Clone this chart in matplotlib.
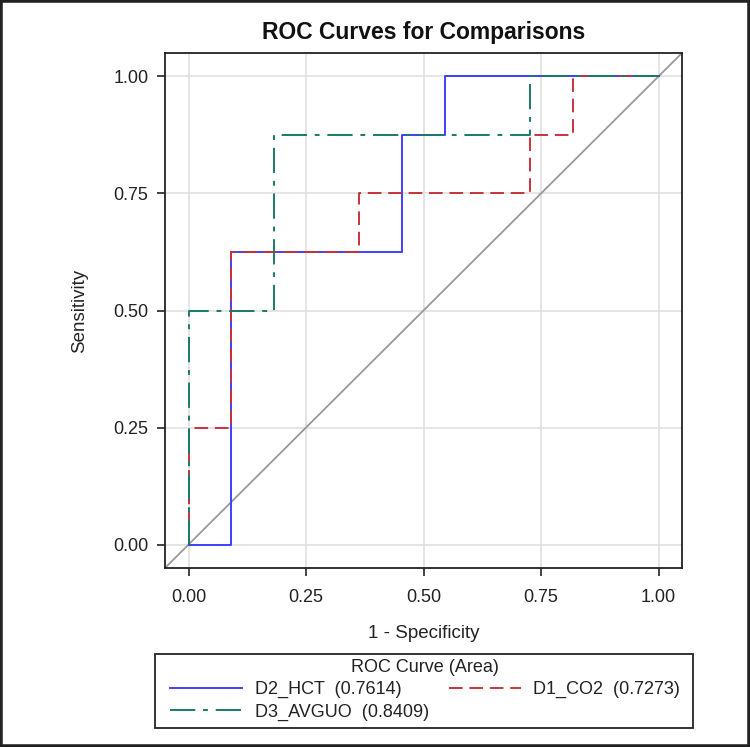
import matplotlib
matplotlib.use("Agg")
import matplotlib.pyplot as plt
from matplotlib.patches import Rectangle

plt.rcParams['font.family'] = ['Liberation Sans', 'DejaVu Sans']

n_neg = 11
hct_x = [0, 1, 1, 5, 5, 6, 6, 11]
hct_y = [0, 0, 0.625, 0.625, 0.875, 0.875, 1, 1]
co2_x = [0, 0, 1, 1, 4, 4, 8, 8, 9, 9, 11]
co2_y = [0, 0.25, 0.25, 0.625, 0.625, 0.75, 0.75, 0.875, 0.875, 1, 1]
avg_x = [0, 0, 2, 2, 8, 8, 11]
avg_y = [0, 0.5, 0.5, 0.875, 0.875, 1, 1]
labels = ['D2_HCT  (0.7614)', 'D1_CO2  (0.7273)', 'D3_AVGUO  (0.8409)']
ticks = [0.0, 0.25, 0.5, 0.75, 1.0]
tick_labels = ['0.00', '0.25', '0.50', '0.75', '1.00']

W, H = 750, 747
fig = plt.figure(figsize=(7.5, 7.47), dpi=100)
fig.patches.append(Rectangle((0, 0), 1, 1, transform=fig.transFigure, fill=False,
                             edgecolor='#222222', linewidth=4))
ax = fig.add_axes([165 / W, 1 - 568 / H, 517 / W, 515 / H])
ax.set_xlim(-0.05, 1.05)
ax.set_ylim(-0.05, 1.05)
ax.set_xticks(ticks)
ax.set_xticklabels(tick_labels)
ax.set_yticks(ticks)
ax.set_yticklabels(tick_labels)
ax.grid(True, color='#e0e0e0', linewidth=1.2)
ax.set_axisbelow(True)
ax.tick_params(labelsize=13, length=6, width=1.2, color='#222222', pad=6, labelcolor='#222222')
ax.tick_params(axis='x', pad=9)
for s in ax.spines.values():
    s.set_color('#222222')
    s.set_linewidth(1.3)

ax.plot([-0.05, 1.05], [-0.05, 1.05], color='#999999', linewidth=1.3, zorder=2)
l1, = ax.plot([v / n_neg for v in hct_x], hct_y, color='#3f3fff', linewidth=1.4, label=labels[0], zorder=3)
l2, = ax.plot([v / n_neg for v in co2_x], co2_y, color='#c8323c', linewidth=1.4,
              dashes=(7, 3.5), label=labels[1], zorder=4)
l3, = ax.plot([v / n_neg for v in avg_x], avg_y, color='#1a7a6a', linewidth=1.4,
              dashes=(13, 4, 2.5, 4), label=labels[2], zorder=5)

ax.set_title('ROC Curves for Comparisons', fontsize=16.5, fontweight='bold', pad=10, color='#111111')
ax.set_xlabel('1 - Specificity', fontsize=13.5, labelpad=14, color='#222222')
ax.set_ylabel('Sensitivity', fontsize=13.5, labelpad=18, color='#222222')

# legend frame
fig.patches.append(Rectangle((155 / W, 1 - 728 / H), (693 - 155) / W, (728 - 654) / H,
                             transform=fig.transFigure, fill=False,
                             edgecolor='#222222', linewidth=1.3))
leg = fig.legend([l1, l3, l2], [labels[0], labels[2], labels[1]], ncol=2,
                 title='ROC Curve (Area)', fontsize=13, title_fontsize=13,
                 loc='center', bbox_to_anchor=(425 / W, 1 - 690 / H),
                 frameon=False, handlelength=4.0, borderaxespad=0, labelspacing=0.28,
                 borderpad=0, columnspacing=1.1, handletextpad=0.67)
for t in leg.get_texts():
    t.set_color('#222222')
leg.get_title().set_color('#222222')
fig.savefig('out.png', dpi=100)
